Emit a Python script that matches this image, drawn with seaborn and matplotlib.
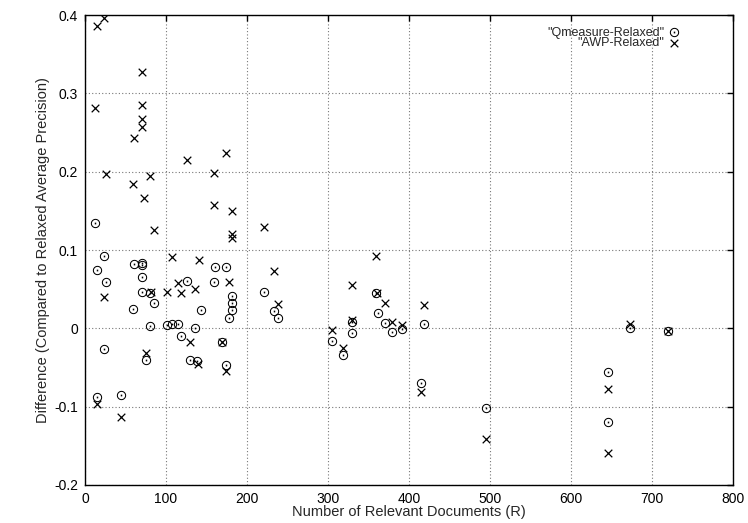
import matplotlib
matplotlib.use("Agg")
import matplotlib.pyplot as plt
import seaborn as sns
import pandas as pd

# Qmeasure-Relaxed (Kreise mit Punkt)
q_r = [12, 15, 23, 26, 23, 15, 44, 59, 61, 70, 70, 70, 71, 80, 85, 80, 75,
       101, 108, 115, 119, 126, 130, 136, 138, 143, 160, 159, 174, 169, 174,
       181, 181, 181, 178, 221, 233, 238, 305, 318, 330, 330, 359, 362, 370,
       379, 391, 418, 415, 495, 646, 646, 673, 720]
q_diff = [0.135, 0.074, 0.093, 0.059, -0.026, -0.088, -0.085, 0.025, 0.082,
          0.083, 0.081, 0.065, 0.046, 0.045, 0.032, 0.003, -0.040, 0.004,
          0.005, 0.006, -0.010, 0.060, -0.040, 0.001, -0.042, 0.024, 0.078,
          0.059, 0.079, -0.017, -0.047, 0.041, 0.033, 0.023, 0.013, 0.046,
          0.022, 0.013, -0.016, -0.034, 0.008, -0.006, 0.045, 0.020, 0.007,
          -0.005, -0.001, 0.006, -0.070, -0.102, -0.056, -0.119, 0.000, -0.003]

# AWP-Relaxed (Kreuze)
a_r = [15, 23, 12, 70, 70, 70, 70, 61, 26, 59, 80, 73, 85, 23, 81, 75, 15, 44,
       126, 107, 101, 115, 119, 136, 141, 130, 139, 159, 159, 174, 182, 181,
       181, 221, 178, 169, 174, 233, 238, 305, 318, 330, 330, 359, 360, 370,
       379, 391, 418, 415, 495, 646, 646, 673, 720]
a_diff = [0.386, 0.396, 0.281, 0.328, 0.285, 0.267, 0.257, 0.243, 0.197, 0.184,
          0.194, 0.166, 0.126, 0.040, 0.046, -0.031, -0.096, -0.113, 0.215,
          0.091, 0.047, 0.058, 0.045, 0.050, 0.087, -0.017, -0.045, 0.198,
          0.157, 0.224, 0.150, 0.121, 0.115, 0.129, 0.059, -0.017, -0.054,
          0.073, 0.031, -0.002, -0.025, 0.055, 0.011, 0.092, 0.045, 0.032,
          0.008, 0.004, 0.030, -0.081, -0.141, -0.078, -0.159, 0.006, -0.003]

x_ticks = [0, 100, 200, 300, 400, 500, 600, 700, 800]
y_ticks = [-0.2, -0.1, 0, 0.1, 0.2, 0.3, 0.4]

sns.set_style("white")
plt.rcParams['font.family'] = ['Liberation Sans', 'DejaVu Sans']

fig = plt.figure(figsize=(7.48, 5.23), dpi=100)
ax = fig.add_axes([0.1136, 0.0727, 0.8664, 0.8983])

q_df = pd.DataFrame({'R': q_r, 'diff': q_diff})
a_df = pd.DataFrame({'R': a_r, 'diff': a_diff})

sns.scatterplot(data=q_df, x='R', y='diff', ax=ax, marker=r'$\odot$', s=45,
                color='black', linewidth=0, label='"Qmeasure-Relaxed"', zorder=3)
sns.scatterplot(data=a_df, x='R', y='diff', ax=ax, marker='x', s=30,
                color='black', linewidth=0.9, label='"AWP-Relaxed"', zorder=3)

ax.set_xlim(0, 800)
ax.set_ylim(-0.2, 0.4)
ax.set_xticks(x_ticks)
ax.set_yticks(y_ticks)
ax.set_xticklabels([str(t) for t in x_ticks])
ax.set_yticklabels(['-0.2', '-0.1', '0', '0.1', '0.2', '0.3', '0.4'])

# gnuplot-artiges Gitter und Rahmen
ax.grid(True, linestyle=(0, (1, 2)), color='#777777', linewidth=0.8)
for sp in ax.spines.values():
    sp.set_color('black')
    sp.set_linewidth(1.0)
ax.tick_params(direction='in', length=4, width=1, top=True, right=True,
               labelsize=10, colors='black', pad=5)

ax.set_xlabel('Number of Relevant Documents (R)', fontsize=10.5, labelpad=-1)
ax.set_ylabel('Difference (Compared to Relaxed Average Precision)', fontsize=10.5, labelpad=3)

ax.legend(loc='upper right', frameon=False, markerfirst=False, fontsize=9,
          handlelength=1.0, handletextpad=0.3, labelspacing=-0.1,
          borderaxespad=0.0, bbox_to_anchor=(0.927, 0.986))

plt.savefig('out.png', dpi=100)
